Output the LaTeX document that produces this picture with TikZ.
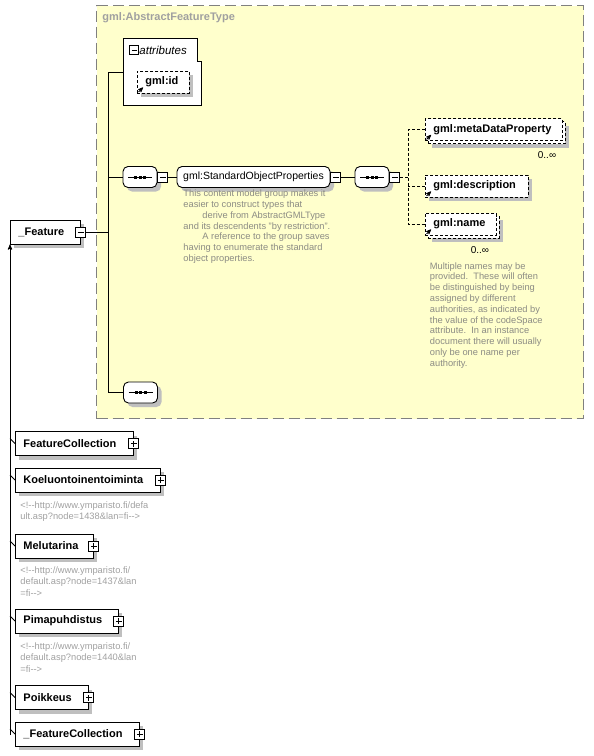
\documentclass[tikz,border=0pt]{standalone}
\usepackage{fontspec}
\setmainfont{Liberation Sans}
\usetikzlibrary{arrows,shadows,positioning}

\definecolor{ctfill}{HTML}{FFFFCC}
\definecolor{ctline}{HTML}{808080}
\definecolor{notegray}{HTML}{8C8C84}
\definecolor{commgray}{HTML}{A0A0A0}

% small reference arrow in the lower left corner of an element
\newcommand{\refmark}[1]{\draw[->,line width=0.8pt,solid] ([xshift=1.5pt,yshift=1.5pt]#1.south west) -- ++(4.5pt,4.5pt);}
% line with three dots inside a sequence compositor
\newcommand{\seqmark}[1]{\draw ([xshift=-12pt]#1.center) -- ([xshift=12pt]#1.center);
	\foreach \d in {-4.5,0,4.5} \fill ([xshift=\d pt]#1.center) +(-1.5pt,-1.5pt) rectangle +(1.5pt,1.5pt);}

\begin{document}
\begin{tikzpicture}[x=1pt,y=-1pt,>=stealth',line width=0.9pt,font=\fontsize{10.5}{12.6}\selectfont]
		\tikzstyle{boxshadow}=[drop shadow={shadow xshift=4pt,shadow yshift=-4pt,fill=black!25,opacity=1}]
		\tikzstyle{boxbase}=[rectangle, draw=black, fill=white, minimum height=24pt, inner xsep=8pt, align=left, anchor=west, font=\bfseries\fontsize{11}{13}\selectfont]
		\tikzstyle{elem}=[boxbase, boxshadow]
		\tikzstyle{optelem}=[elem, dash pattern=on 3pt off 2pt, minimum height=22pt]
		\tikzstyle{optfront}=[boxbase, dash pattern=on 3pt off 2pt, minimum height=22pt]
		\tikzstyle{minusbox}=[rectangle, draw=black, fill=white, minimum size=10pt, inner sep=0pt,
			path picture={\draw ([xshift=2pt]path picture bounding box.west) -- ([xshift=-2pt]path picture bounding box.east);}]
		\tikzstyle{plusbox}=[minusbox,
			path picture={\draw ([xshift=2pt]path picture bounding box.west) -- ([xshift=-2pt]path picture bounding box.east);
				\draw ([yshift=2pt]path picture bounding box.south) -- ([yshift=-2pt]path picture bounding box.north);}]
		\tikzstyle{seqbox}=[rectangle, rounded corners=5pt, draw=black, fill=white, minimum width=34pt, minimum height=21pt, inner sep=0pt, boxshadow]
		\tikzstyle{grpbox}=[seqbox, minimum width=153pt]
		\tikzstyle{annot}=[anchor=north west, align=left, inner sep=0pt, text=notegray, font=\fontsize{9.3}{10.8}\selectfont]
		\tikzstyle{comm}=[annot, text=commgray, font=\fontsize{9.3}{11.2}\selectfont]
		\tikzstyle{card}=[inner sep=0pt, font=\fontsize{10}{12}\selectfont]

		\useasboundingbox (0,0) rectangle (594,756);

		% complex type area
		\node [rectangle, draw=ctline, fill=ctfill, line width=1.3pt, dash pattern=on 11pt off 5pt, anchor=north west, minimum width=487pt, minimum height=413pt] (ct) at (96,5) {};
		\node [anchor=west, inner sep=0pt, text=commgray, font=\bfseries\fontsize{11}{13}\selectfont] (cttitle) at (102,18) {gml:AbstractFeatureType};

		% attributes
		\draw [fill=white] (123,38) -- (197,38) -- (197,61) -- (201,61) -- (201,105) -- (123,105) -- cycle;
		\node [minusbox, minimum size=9pt] (attrm) at (134,50) {};
		\node [anchor=west, inner sep=0pt, font=\itshape\fontsize{11.5}{13}\selectfont] (attrlabel) at (139,50) {attributes};
		\node [optelem, text width=36pt] (gid) at (137,82) {gml:id};
		\refmark{gid}
		\coordinate (attr) at (123,72);
		\coordinate (spine) at (108,72);

		% root element
		\node [elem, text width=54pt] (feat) at (10,232) {\_Feature};
		\node [minusbox] (featm) at (feat.east) {};

		% content model
		\node [seqbox] (seq1) at (140,177) {};
		\seqmark{seq1}
		\node [minusbox, right=0pt of seq1] (seq1m) {};
		\node [grpbox] (sop) at (253.5,177) {gml:StandardObjectProperties};
		\node [minusbox, right=0pt of sop] (sopm) {};
		\node [seqbox] (seq2) at (372,177) {};
		\seqmark{seq2}
		\node [minusbox, right=0pt of seq2] (seq2m) {};
		\coordinate (split) at (408,177);
		\node [seqbox] (seq3) at (140.5,392.5) {};
		\seqmark{seq3}

		\node [annot] (sopnote) at (183,189.5) {This content model group makes it\\
			easier to construct types that\\
			\hspace*{19pt}derive from AbstractGMLType\\
			and its descendents "by restriction".\\
			\hspace*{19pt}A reference to the group saves\\
			having to enumerate the standard\\
			object properties.};

		% group members
		\node [optelem, minimum width=137pt] (metab) at (428,132.5) {};
		\node [optfront, text width=121pt] (meta) at (425,129.5) {gml:metaDataProperty};
		\refmark{meta}
		\node [card] (metacard) at (547,155) {0..∞};
		\node [optelem, text width=87pt] (desc) at (425,186) {gml:description};
		\refmark{desc}
		\node [optelem, minimum width=71pt] (nameb) at (428,227) {};
		\node [optfront, text width=55pt] (name) at (425,224) {gml:name};
		\refmark{name}
		\node [card] (namecard) at (480,250) {0..∞};

		\node [annot] (namenote) at (429.5,262) {Multiple names may be\\
			provided.\ \ These will often\\
			be distinguished by being\\
			assigned by different\\
			authorities, as indicated by\\
			the value of the codeSpace\\
			attribute.\ \ In an instance\\
			document there will usually\\
			only be one name per\\
			authority.};

		% connectors
		\draw (attr) -- (spine) |- (seq3.west);
		\draw (featm.east) -- (featm.east -| spine);
		\draw (seq1.west) -- (seq1.west -| spine);
		\draw (seq1m) -- (sop);
		\draw (sopm) -- (seq2);
		\draw [dash pattern=on 3pt off 2pt] (seq2m) -- (split);
		\draw [dash pattern=on 3pt off 2pt] (meta.west) -| (split) |- (name.west);
		\draw [dash pattern=on 3pt off 2pt] (desc.west) -- (desc.west -| split);

		% derived types
		\node [elem, text width=102pt] (fc) at (15,443.5) {FeatureCollection};
		\node [plusbox] (fcp) at (fc.east) {};
		\node [elem, text width=129pt] (koe) at (15,480) {Koeluontoinentoiminta};
		\node [plusbox] (koep) at (koe.east) {};
		\node [comm] (koenote) at (20,501.5) {<!-{}-http://www.ymparisto.fi/defa\\ult.asp?node=1438\&lan=fi-{}->};
		\node [elem, text width=62pt] (mel) at (15,546) {Melutarina};
		\node [plusbox] (melp) at (mel.east) {};
		\node [comm] (melnote) at (20,566.5) {<!-{}-http://www.ymparisto.fi/\\default.asp?node=1437\&lan\\=fi-{}->};
		\node [elem, text width=87pt] (pim) at (15,621) {Pimapuhdistus};
		\node [plusbox] (pimp) at (pim.east) {};
		\node [comm] (pimnote) at (20,642.5) {<!-{}-http://www.ymparisto.fi/\\default.asp?node=1440\&lan\\=fi-{}->};
		\node [elem, text width=57pt] (poi) at (15,697.5) {Poikkeus};
		\node [plusbox] (poip) at (poi.east) {};
		\node [elem, text width=108pt] (fcol) at (15,734) {\_FeatureCollection};
		\node [plusbox] (fcolp) at (fcol.east) {};

		\coordinate (trunk) at (10,735);
		\draw [->] (trunk) -- (feat.south west);
		\foreach \n in {fc,koe,mel,pim,poi,fcol}
			\draw (\n.west) -- ++(-5pt,5pt);
	\end{tikzpicture}
\end{document}
